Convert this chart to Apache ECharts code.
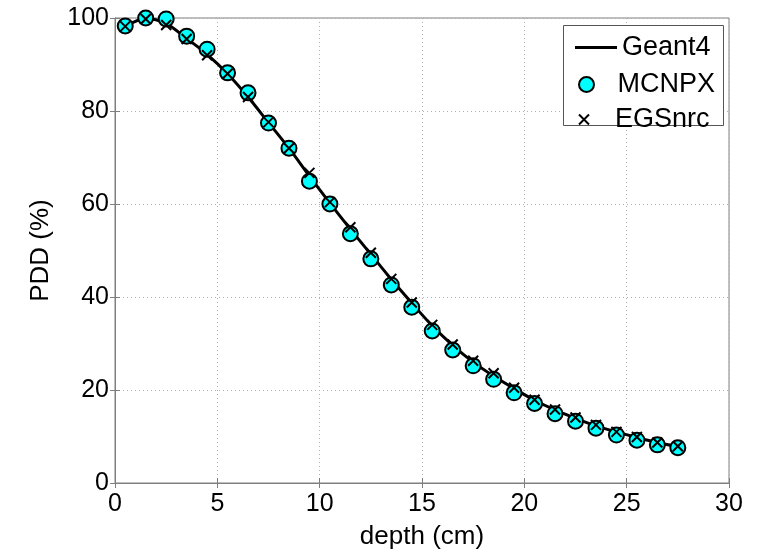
<!DOCTYPE html>
<html><head><meta charset="utf-8">
<script src="https://cdn.jsdelivr.net/npm/echarts@6/dist/echarts.min.js"></script>
<style>html,body{margin:0;padding:0;background:#fff}#c{width:761px;height:558px}</style>
</head><body><div id="c"></div>
<script>
const depth = [0.5,1.5,2.5,3.5,4.5,5.5,6.5,7.5,8.5,9.5,10.5,11.5,12.5,13.5,14.5,15.5,16.5,17.5,18.5,19.5,20.5,21.5,22.5,23.5,24.5,25.5,26.5,27.5];
const geant4 = [98.2,99.9,98.8,95.6,92.2,88.0,83.0,77.5,72.0,66.0,60.2,54.6,49.2,43.8,38.7,33.8,29.6,26.0,23.0,20.3,17.8,15.7,13.9,12.3,11.0,9.8,8.7,7.8];
const mcnpx = [98.3,100.0,99.8,96.1,93.3,88.2,83.9,77.4,72.0,64.9,60.0,53.6,48.2,42.6,37.8,32.7,28.6,25.2,22.3,19.4,17.1,14.9,13.3,11.8,10.3,9.2,8.2,7.6];
const egsnrc = [98.2,99.8,98.5,95.5,92.0,88.0,83.0,77.6,72.0,66.7,60.4,55.0,49.5,43.9,38.8,34.0,29.8,26.3,23.6,20.5,17.9,15.8,14.1,12.5,11.0,9.9,8.7,7.9];
const xTicks = [0,5,10,15,20,25,30];
const yTicks = [0,20,40,60,80,100];

const pair = (ys) => depth.map((x,i)=>[x, ys[i]]);
const FONT = 'Liberation Sans';
const grayLine = {lineStyle:{color:'#7f7f7f', width:1}};
const legText = {fontSize:27, color:'#000', fontFamily:FONT};
const chart = echarts.init(document.getElementById('c'), null, {renderer:'canvas'});
chart.setOption({
  animation:false,
  backgroundColor:'#fff',
  textStyle:{fontFamily:FONT},
  grid:{left:115, right:32, top:18, bottom:75, show:true, borderColor:'#7f7f7f', borderWidth:1},
  xAxis:[{
    type:'value', min:xTicks[0], max:xTicks[xTicks.length-1], interval:5, position:'bottom',
    name:'depth (cm)', nameLocation:'middle', nameGap:41,
    nameTextStyle:{fontSize:26, color:'#000', fontFamily:FONT},
    axisLine:{show:true, ...grayLine}, axisTick:{show:true, inside:true, length:5, ...grayLine},
    axisLabel:{fontSize:25, color:'#000', margin:9, fontFamily:FONT},
    splitLine:{show:true, lineStyle:{color:'#b0b0b0', type:[1,3], width:1}}
  },{
    type:'value', min:xTicks[0], max:xTicks[xTicks.length-1], interval:5, position:'top',
    axisLine:{show:true, ...grayLine}, axisTick:{show:true, inside:true, length:5, ...grayLine},
    axisLabel:{show:false}, splitLine:{show:false}
  }],
  yAxis:[{
    type:'value', min:yTicks[0], max:yTicks[yTicks.length-1], interval:20, position:'left',
    name:'PDD (%)', nameLocation:'middle', nameGap:61,
    nameTextStyle:{fontSize:26, color:'#000', fontFamily:FONT},
    axisLine:{show:true, ...grayLine}, axisTick:{show:true, inside:true, length:5, ...grayLine},
    axisLabel:{fontSize:25, color:'#000', margin:6, fontFamily:FONT},
    splitLine:{show:true, lineStyle:{color:'#b0b0b0', type:[1,3], width:1}}
  },{
    type:'value', min:yTicks[0], max:yTicks[yTicks.length-1], interval:20, position:'right',
    axisLine:{show:true, ...grayLine}, axisTick:{show:true, inside:true, length:5, ...grayLine},
    axisLabel:{show:false}, splitLine:{show:false}
  }],
  graphic:[{type:'rect', left:563, top:25, shape:{width:160, height:100}, style:{fill:'#fff', stroke:'#555', lineWidth:1}, z:50}],
  legend:[{
    data:[{name:'Geant4', icon:'rect'}], left:570, top:29, itemWidth:42, itemHeight:3, itemGap:0, z:60,
    textStyle:{...legText}
  },{
    data:['MCNPX'], left:573, top:66, itemWidth:30, itemHeight:15, z:60,
    textStyle:{...legText, padding:[0,0,0,11]}
  },{
    data:['EGSnrc'], left:573, top:101, itemWidth:30, itemHeight:10, z:60,
    textStyle:{...legText, padding:[0,0,0,11]}
  }],
  series:[{
    name:'Geant4', type:'line', data:pair(geant4), smooth:0.3, showSymbol:false, symbol:'none',
    lineStyle:{color:'#000', width:3}, itemStyle:{color:'#000'}, z:2
  },{
    name:'MCNPX', type:'scatter', data:pair(mcnpx), symbol:'circle', symbolSize:15,
    itemStyle:{color:'#00ffff', borderColor:'#000', borderWidth:2, opacity:1}, z:3
  },{
    name:'EGSnrc', type:'scatter', data:pair(egsnrc), symbol:'path://M0,0L10,10M10,0L0,10', symbolSize:10,
    itemStyle:{color:'rgba(0,0,0,0)', borderColor:'#000', borderWidth:2, opacity:1}, z:4
  }]
});
</script></body></html>
